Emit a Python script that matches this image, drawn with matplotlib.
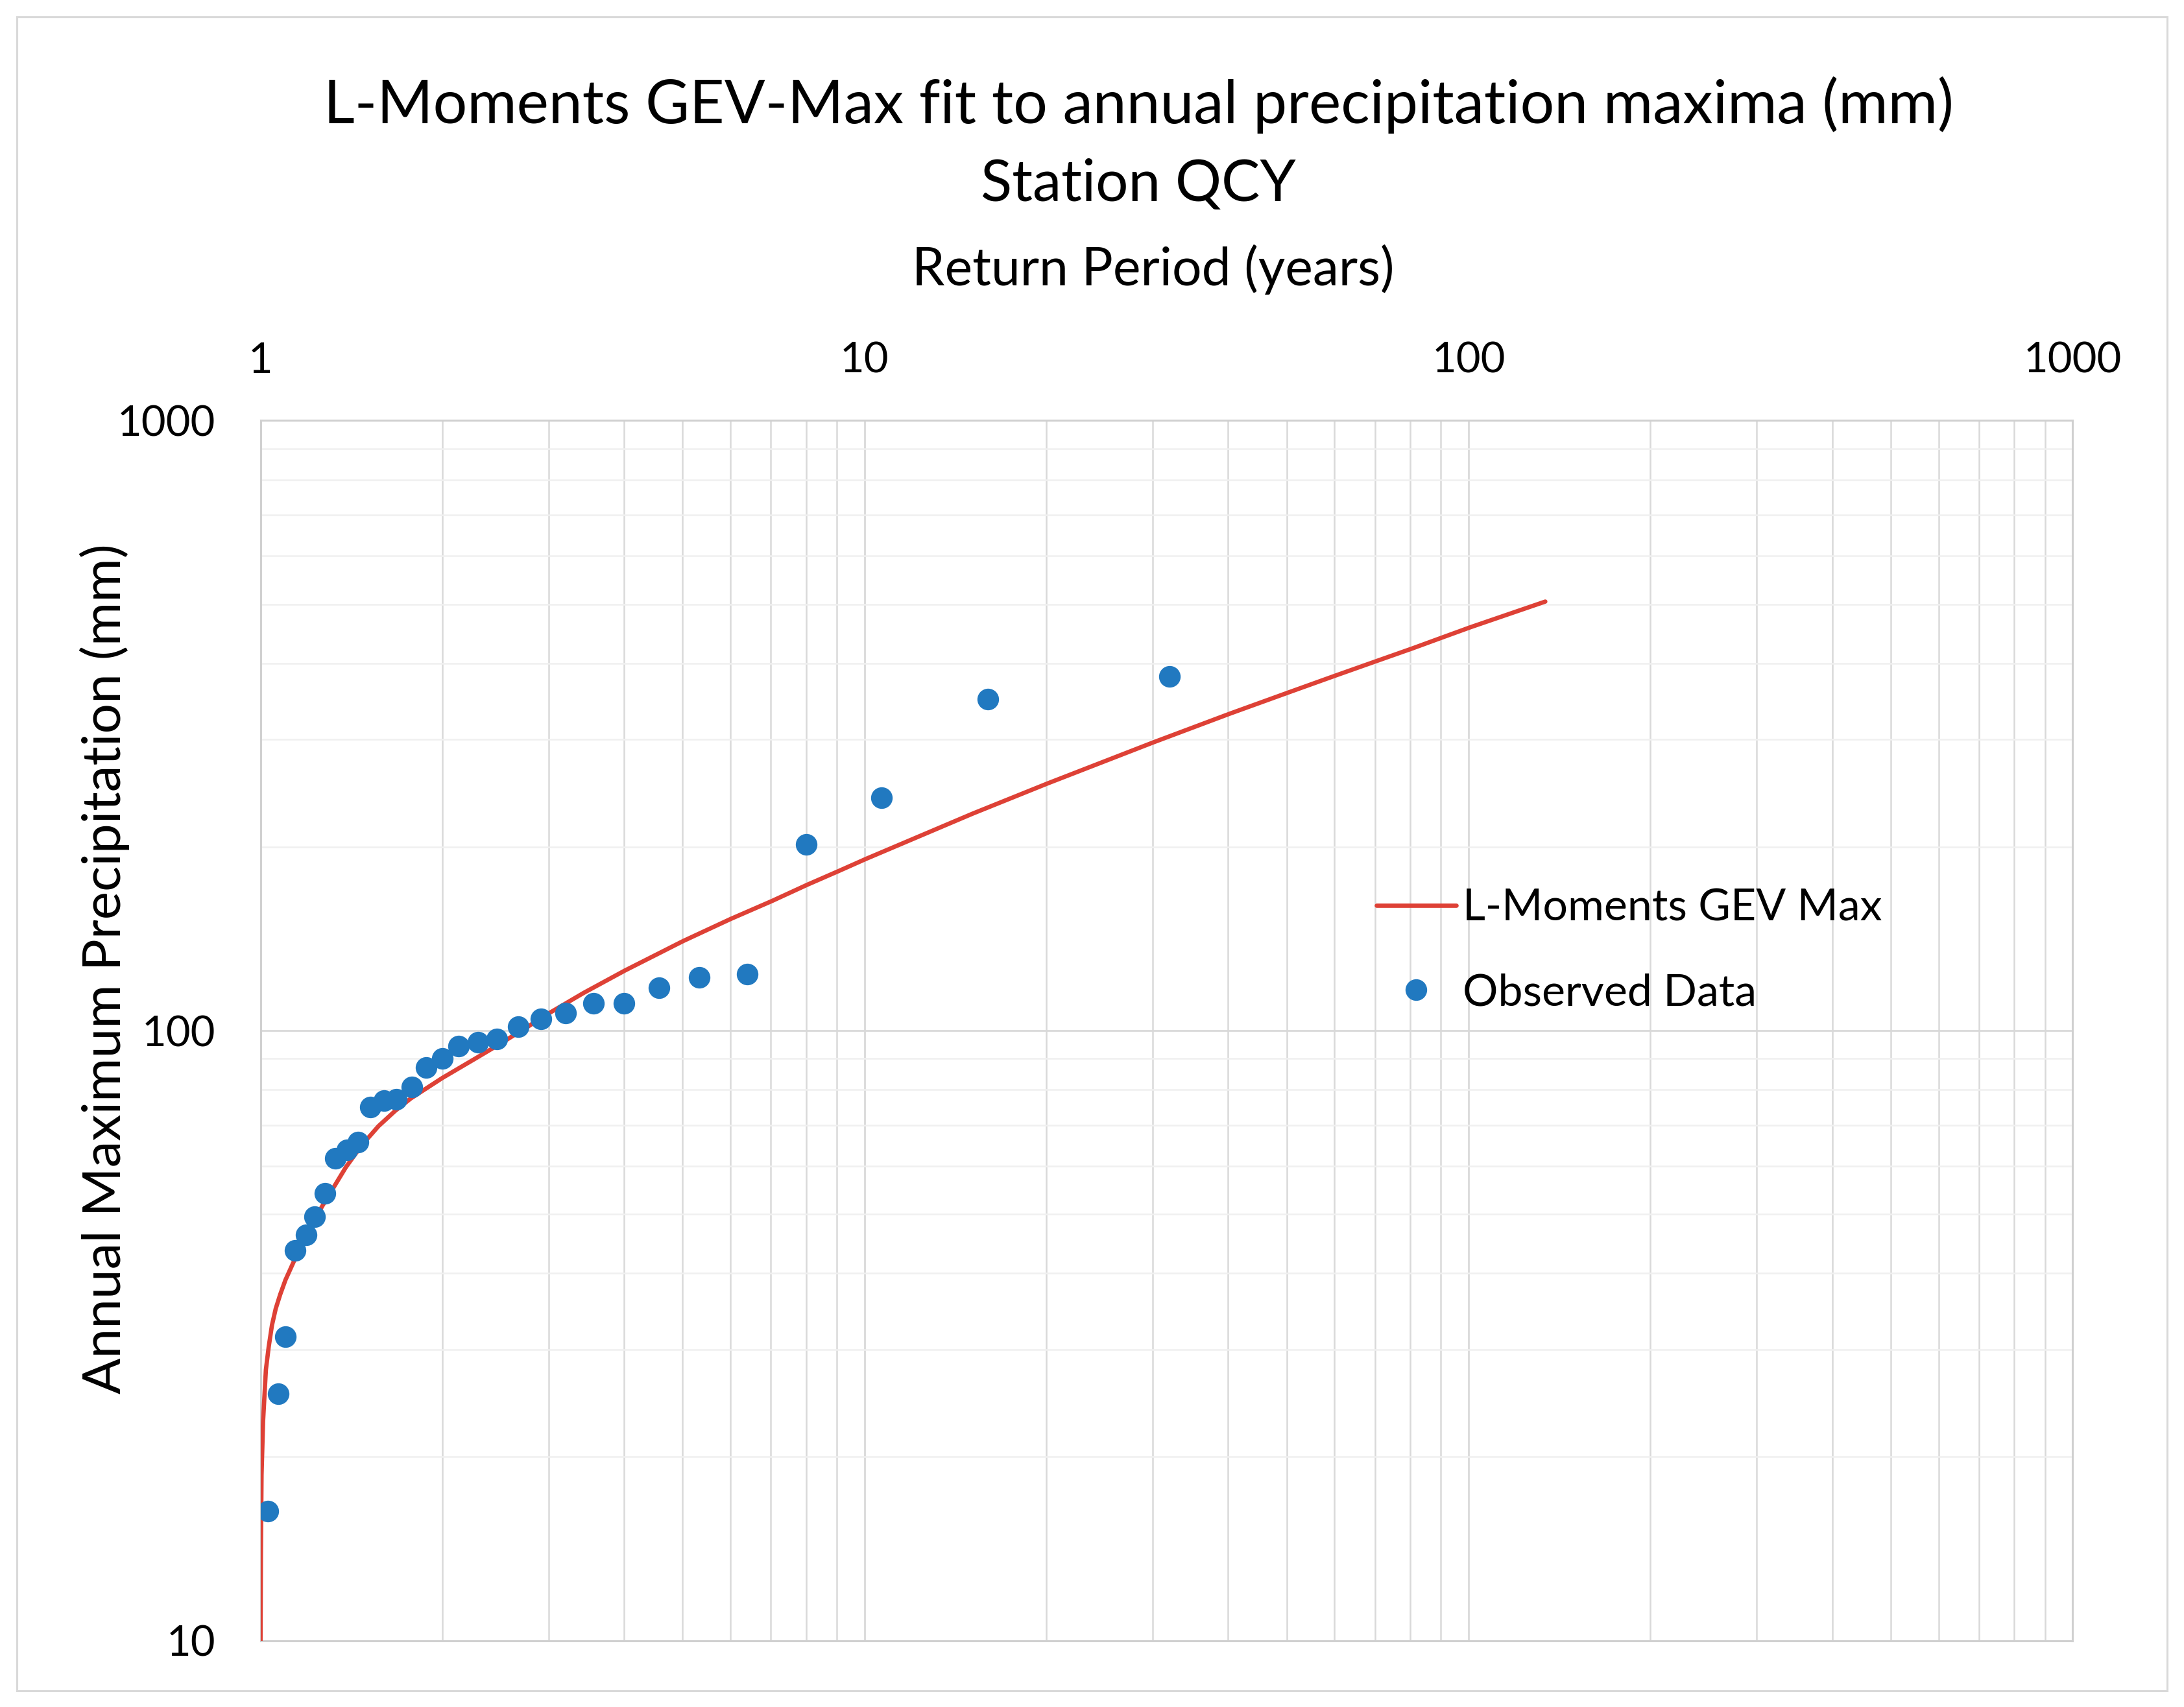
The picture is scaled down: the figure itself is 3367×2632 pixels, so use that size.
import matplotlib
matplotlib.use('Agg')
import matplotlib.pyplot as plt
from matplotlib.patches import Rectangle
from matplotlib.ticker import NullFormatter, LogLocator

plt.rcParams['font.family'] = ['Lato', 'DejaVu Sans']

# observed annual maxima, return period (years) vs precipitation (mm)
obs_return_period = [1.03, 1.07, 1.10, 1.14, 1.19, 1.23, 1.28, 1.33, 1.39, 1.45,
                     1.52, 1.60, 1.68, 1.78, 1.88, 2.00, 2.13, 2.29, 2.46, 2.67,
                     2.91, 3.20, 3.56, 4.00, 4.57, 5.33, 6.40, 8.00, 10.67, 16.0, 32.0]
obs_precip = [16.3, 25.4, 31.5, 43.6, 46.3, 49.5, 54.1, 61.7, 63.8, 65.6,
              75.0, 76.8, 77.1, 80.8, 86.9, 90.0, 94.3, 95.6, 96.9, 101.4,
              104.6, 106.8, 110.8, 110.8, 117.5, 122.1, 123.8, 202.0, 241.0, 349.0, 381.0]

# fitted L-moments GEV curve
fit_return_period = [1.0003, 1.0017, 1.0042, 1.0101, 1.021, 1.032, 1.045, 1.06, 1.078,
                     1.10, 1.1415, 1.20, 1.265, 1.385, 1.47, 1.568, 1.67, 1.774,
                     2.0, 2.27, 2.466, 2.75, 3.006, 3.43, 4.01, 5.01, 6.005, 7.02,
                     8.04, 9.05, 10.06, 15.12, 20.1, 30.1, 40.3, 50.4, 60.3, 70.3,
                     80.7, 90.2, 100.8, 134.0]
fit_precip = [10.0, 13.8, 18.7, 22.9, 27.8, 30.3, 32.9, 35.0, 36.9,
              39.0, 42.3, 46.8, 51.5, 59.7, 64.8, 69.7, 73.8, 77.4,
              83.6, 90.0, 94.5, 101.0, 106.8, 115.3, 125.4, 140.2, 152.4, 163.0,
              173.4, 182.5, 191.2, 226.9, 254.2, 296.9, 330.9, 358.5, 382.1, 403.2,
              423.1, 440.5, 458.5, 505.0]

x_ticks = [1, 10, 100, 1000]
x_tick_labels = ['1', '10', '100', '1000']
y_ticks = [10, 100, 1000]
y_tick_labels = ['10', '100', '1000']

line_color = '#DE4136'
dot_color = '#2179C0'
grid_color = '#D9D9D9'

fig = plt.figure(figsize=(33.67, 26.32), dpi=100)
fig.patch.set_facecolor('white')

# chart border
fig.patches.append(Rectangle((26 / 3367, 1 - 2607 / 2632), (3341 - 26) / 3367, (2607 - 26) / 2632,
                             transform=fig.transFigure, fill=False, edgecolor=grid_color, lw=2.2))

ax = fig.add_axes([0.11925, 0.03894, 0.82973, 0.71467])
ax.set_xscale('log')
ax.set_yscale('log')
ax.set_xlim(1, 1000)
ax.set_ylim(10, 1000)

ax.plot(fit_return_period, fit_precip, color=line_color, lw=4.8, zorder=3,
        solid_capstyle='round', solid_joinstyle='round', label='L-Moments GEV Max')
ax.plot(obs_return_period, obs_precip, 'o', color=dot_color, ms=24, mew=0, zorder=4,
        label='Observed Data')

ax.xaxis.tick_top()
ax.set_xticks(x_ticks, labels=x_tick_labels)
ax.set_yticks(y_ticks, labels=y_tick_labels)
ax.xaxis.set_minor_locator(LogLocator(base=10, subs=range(2, 10)))
ax.yaxis.set_minor_locator(LogLocator(base=10, subs=range(2, 10)))
ax.xaxis.set_minor_formatter(NullFormatter())
ax.yaxis.set_minor_formatter(NullFormatter())
ax.tick_params(axis='x', which='both', length=0, labelsize=47, pad=45, colors='black')
ax.tick_params(axis='y', which='both', length=0, labelsize=47, pad=50, colors='black')

ax.grid(True, which='major', axis='both', color=grid_color, lw=2.0)
ax.grid(True, which='minor', axis='x', color=grid_color, lw=1.8)
ax.grid(True, which='minor', axis='y', color='#F0F0F0', lw=1.8)
ax.set_axisbelow(True)
for s in ax.spines.values():
    s.set_color('#D0D0D0')
    s.set_linewidth(2.2)

fig.text(0.5213, 1 - 190 / 2632, 'L-Moments GEV-Max fit to annual precipitation maxima (mm)',
         ha='center', va='baseline', fontsize=67)
fig.text(0.5213, 1 - 310 / 2632, 'Station QCY', ha='center', va='baseline', fontsize=64)
fig.text(0.528, 1 - 439 / 2632, 'Return Period (years)', ha='center', va='baseline', fontsize=58)
fig.text(161 / 3367, 1 - 1494 / 2632, 'Annual Maximum Precipitation (mm)', rotation=90,
         ha='center', va='center', fontsize=59)

leg = ax.legend(loc='center left', bbox_to_anchor=(2122 / 3367, 1 - 1466 / 2632),
                bbox_transform=fig.transFigure, frameon=False, fontsize=49,
                borderpad=0, borderaxespad=0, handlelength=1.8, handletextpad=0.15,
                labelspacing=1.0)

fig.savefig('out.png', dpi=100, facecolor='white')
